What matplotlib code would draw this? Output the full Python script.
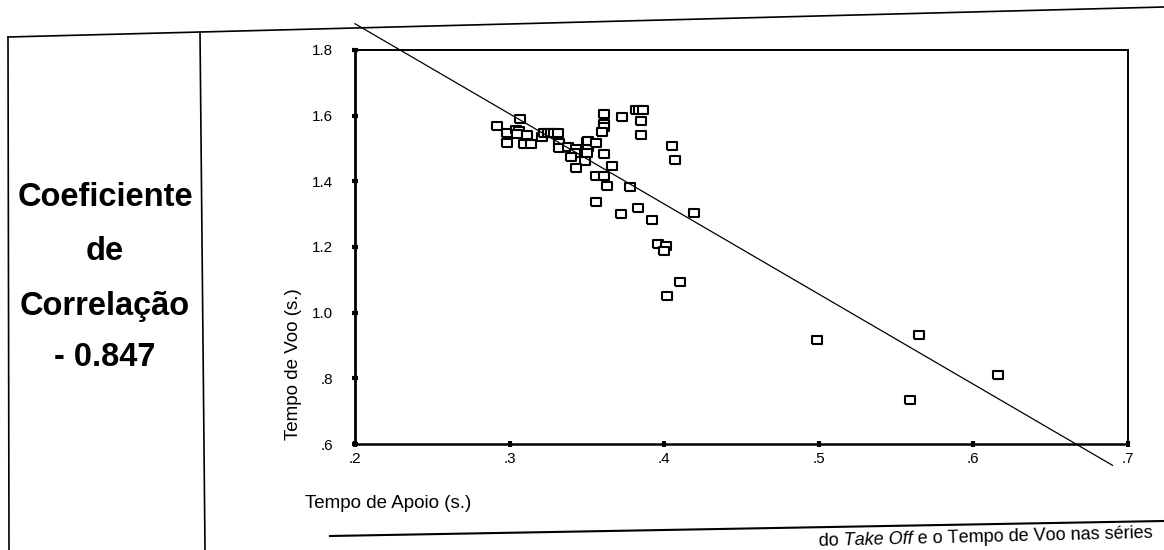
import matplotlib.pyplot as plt

plt.rcParams['font.family'] = ['Liberation Sans', 'DejaVu Sans']
plt.rcParams['mathtext.fontset'] = 'custom'
plt.rcParams['mathtext.rm'] = 'Liberation Sans'
plt.rcParams['mathtext.it'] = 'Liberation Sans:italic'

# tempo de apoio (s.) e tempo de voo (s.)
apoio = [0.307, 0.292, 0.298, 0.304, 0.306, 0.305, 0.311, 0.298, 0.309, 0.314,
         0.321, 0.322, 0.325, 0.327, 0.329, 0.331, 0.332, 0.332, 0.338, 0.343,
         0.342, 0.350, 0.351, 0.350, 0.349, 0.340, 0.343, 0.361, 0.373, 0.382,
         0.384, 0.386, 0.385, 0.361, 0.361, 0.360, 0.385, 0.351, 0.356, 0.361,
         0.405, 0.407, 0.366, 0.356, 0.361, 0.363, 0.378, 0.356, 0.372, 0.383,
         0.392, 0.419, 0.396, 0.401, 0.400, 0.410, 0.402, 0.499, 0.565, 0.616,
         0.559]
voo = [1.591, 1.568, 1.546, 1.555, 1.552, 1.543, 1.542, 1.516, 1.515, 1.514,
       1.535, 1.547, 1.547, 1.547, 1.547, 1.547, 1.516, 1.501, 1.506, 1.497,
       1.485, 1.521, 1.505, 1.487, 1.463, 1.473, 1.442, 1.605, 1.595, 1.618,
       1.618, 1.618, 1.585, 1.574, 1.565, 1.550, 1.542, 1.523, 1.517, 1.483,
       1.507, 1.464, 1.446, 1.416, 1.416, 1.385, 1.384, 1.337, 1.302, 1.320,
       1.282, 1.304, 1.209, 1.202, 1.187, 1.094, 1.052, 0.916, 0.932, 0.809,
       0.734]

# reta de regressao
reta_a = 2.429
reta_b = -2.745
reta_x = [0.2, 0.69]

xticks = [0.2, 0.3, 0.4, 0.5, 0.6, 0.7]
xlabels = ['.2', '.3', '.4', '.5', '.6', '.7']
yticks = [0.6, 0.8, 1.0, 1.2, 1.4, 1.6, 1.8]
ylabels = ['.6', '.8', '1.0', '1.2', '1.4', '1.6', '1.8']

W, H = 1164, 550
fig = plt.figure(figsize=(W / 100, H / 100), dpi=100)

# fundo com as linhas da tabela (coordenadas em pixels)
bg = fig.add_axes([0, 0, 1, 1], zorder=0)
bg.set_xlim(0, W)
bg.set_ylim(H, 0)
bg.axis('off')
bg.plot([8, 1164], [37, 7], color='black', lw=1.2)
bg.plot([8, 9], [37, 550], color='black', lw=1.2)
bg.plot([200, 205], [32, 550], color='black', lw=1.2)
bg.plot([330, 1164], [536, 521], color='black', lw=1.5)

for txt, y in zip(['Coeficiente', 'de', 'Correlação', '- 0.847'], [198, 252, 306, 358]):
    bg.text(105, y, txt, fontsize=23.5, fontweight='bold', ha='center', va='center')

bg.text(818, 546, r'do $\mathit{Take\ Off}$ e o Tempo de Voo nas séries',
        fontsize=13, rotation=1.4, rotation_mode='anchor', ha='left', va='baseline')

# grafico de dispersao
ax = fig.add_axes([355 / W, 1 - 444 / H, 773 / W, 394 / H], zorder=1)
ax.patch.set_alpha(0)
ax.plot(apoio, voo, linestyle='none',
        marker=[(-1.4, -1), (1.4, -1), (1.4, 1), (-1.4, 1), (-1.4, -1)],
        markersize=7.5, markerfacecolor='white', markeredgecolor='black', markeredgewidth=1.5)
ax.plot(reta_x, [reta_a + reta_b * x for x in reta_x], color='black', lw=0.9, clip_on=False)

ax.set_xlim(0.2, 0.7)
ax.set_ylim(0.6, 1.8)
ax.set_xticks(xticks)
ax.set_xticklabels(xlabels)
ax.set_yticks(yticks)
ax.set_yticklabels(ylabels)
ax.tick_params(direction='inout', length=4, width=3, labelsize=11)
ax.tick_params(axis='y', pad=14)
ax.tick_params(axis='x', pad=4)
for s in ax.spines.values():
    s.set_linewidth(1.4)
ax.spines['left'].set_linewidth(2)
ax.spines['bottom'].set_linewidth(1.8)

fig.text(305 / W, 1 - 503 / H, 'Tempo de Apoio (s.)', fontsize=13.5, ha='left', va='center')
fig.text(293 / W, 1 - 440 / H, 'Tempo de Voo (s.)', fontsize=13.5, rotation=90,
         ha='center', va='bottom')

fig.savefig('out.png', dpi=100)
